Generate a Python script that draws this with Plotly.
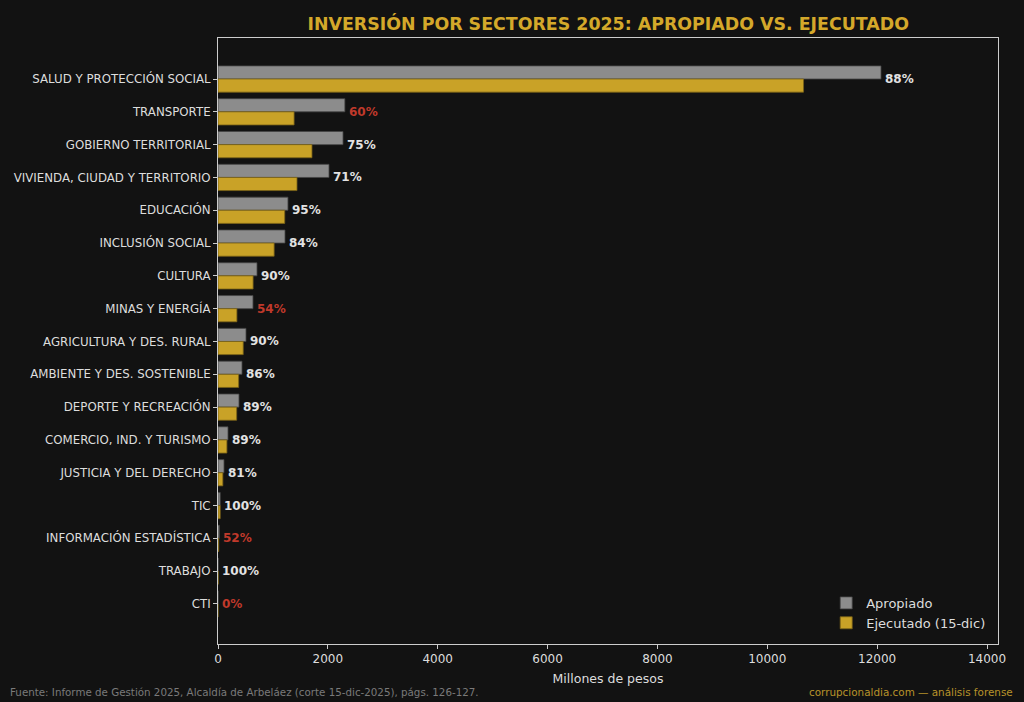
import plotly.graph_objects as go

# sectores, de mayor a menor apropiado (millones de pesos)
sectores = ["SALUD Y PROTECCIÓN SOCIAL", "TRANSPORTE", "GOBIERNO TERRITORIAL",
            "VIVIENDA, CIUDAD Y TERRITORIO", "EDUCACIÓN", "INCLUSIÓN SOCIAL",
            "CULTURA", "MINAS Y ENERGÍA", "AGRICULTURA Y DES. RURAL",
            "AMBIENTE Y DES. SOSTENIBLE", "DEPORTE Y RECREACIÓN",
            "COMERCIO, IND. Y TURISMO", "JUSTICIA Y DEL DERECHO", "TIC",
            "INFORMACIÓN ESTADÍSTICA", "TRABAJO", "CTI"]
apropiado = [12070, 2310, 2276, 2021, 1274, 1220, 710, 637, 510, 437, 382,
             182, 109, 40, 25, 3, 2]
ejecutado = [10660, 1385, 1711, 1438, 1215, 1022, 639, 344, 459, 376, 340,
             162, 88, 40, 13, 3, 0]
porcentaje = [88, 60, 75, 71, 95, 84, 90, 54, 90, 86, 89, 89, 81, 100, 52, 100, 0]

BG = "#121212"
GRIS = "#8c8c8c"
ORO = "#c9a227"
ROJO = "#c0392b"
FONT = "DejaVu Sans"

fig = go.Figure()
fig.add_trace(go.Bar(
    y=sectores, x=apropiado, orientation="h", name="Apropiado",
    marker=dict(color=GRIS, line=dict(color="#444444", width=0.8))))
fig.add_trace(go.Bar(
    y=sectores, x=ejecutado, orientation="h", name="Ejecutado (15-dic)",
    marker=dict(color=ORO, line=dict(color="#7a6218", width=0.8))))

# etiquetas de % de ejecución
for s, a, e, p in zip(sectores, apropiado, ejecutado, porcentaje):
    fig.add_annotation(
        x=max(a, e), y=s, text=f"<b>{p}%</b>", showarrow=False,
        xanchor="left", xshift=2,
        font=dict(family=FONT, size=12, color=ROJO if p < 70 else "#e2e2e2"))

fig.add_annotation(
    x=0, y=0, xref="paper", yref="paper", showarrow=False,
    xanchor="left", yanchor="bottom", xshift=-210, yshift=-56,
    text="Fuente: Informe de Gestión 2025, Alcaldía de Arbeláez (corte 15-dic-2025), págs. 126-127.",
    font=dict(family=FONT, size=10.3, color="#7a7a7a"))
fig.add_annotation(
    x=1, y=0, xref="paper", yref="paper", showarrow=False,
    xanchor="right", yanchor="bottom", xshift=17, yshift=-56,
    text="corrupcionaldia.com — análisis forense",
    font=dict(family=FONT, size=10.4, color="#b8922a"))

fig.update_layout(
    width=1024, height=702,
    paper_bgcolor=BG, plot_bgcolor=BG,
    margin=dict(l=218, r=26, t=38, b=58),
    barmode="group", bargap=0.2, bargroupgap=0,
    font=dict(family=FONT, color="#dddddd"),
    title=dict(text="<b>INVERSIÓN POR SECTORES 2025: APROPIADO VS. EJECUTADO</b>",
               x=0.594, xanchor="center", y=0.966, yanchor="middle",
               font=dict(family=FONT, size=17.4, color="#d4a82a")),
    legend=dict(x=0.99, y=0.01, xanchor="right", yanchor="bottom",
                bgcolor="rgba(0,0,0,0)", font=dict(family=FONT, size=13, color="#dddddd"),
                traceorder="normal"),
    xaxis=dict(range=[0, 14200], tickvals=list(range(0, 14001, 2000)), tickformat="d",
               showgrid=False, zeroline=False, showline=True, mirror=True,
               linecolor="#cccccc", linewidth=1, ticks="outside", ticklen=4,
               tickcolor="#cccccc", tickfont=dict(size=12, color="#dddddd"),
               title=dict(text="Millones de pesos", standoff=8,
                          font=dict(size=12.5, color="#dddddd"))),
    yaxis=dict(autorange=False, range=[16 + 1.22, -1.25], type="category",
               showgrid=False, zeroline=False, showline=True, mirror=True,
               linecolor="#cccccc", linewidth=1, ticks="outside", ticklen=4,
               tickcolor="#cccccc", tickfont=dict(size=11.8, color="#dddddd")),
)

fig.write_html("out.html", config={"displayModeBar": False},
               post_script="document.body.style.margin='0';document.body.style.background='#121212';")
